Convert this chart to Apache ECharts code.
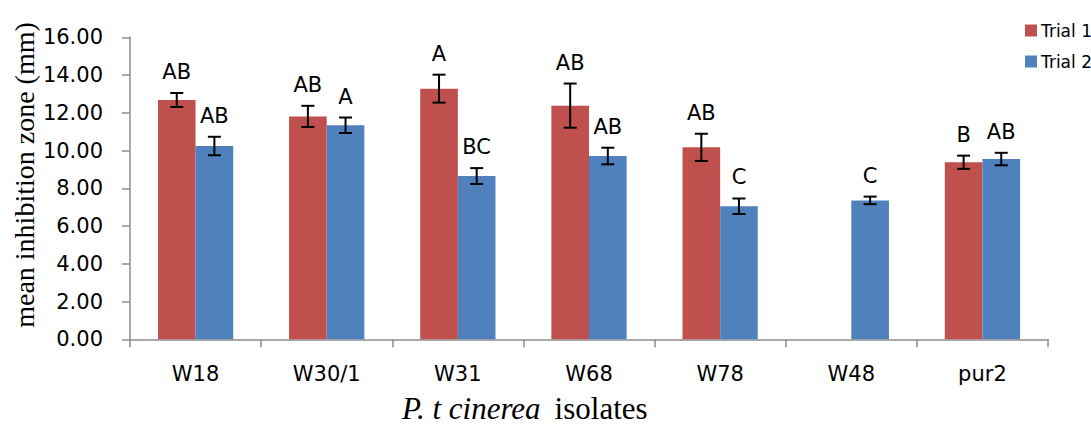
<!DOCTYPE html>
<html>
<head>
<meta charset="utf-8">
<script src="https://cdn.jsdelivr.net/npm/echarts@6/dist/echarts.min.js"></script>
<style>
  html, body { margin: 0; padding: 0; background: #fff; }
  #chart { width: 1091px; height: 425px; }
</style>
</head>
<body>
<div id="chart"></div>
<script>
// Mean inhibition zone (mm) per isolate, two trials, with standard error and letter groups
const categories = ['W18', 'W30/1', 'W31', 'W68', 'W78', 'W48', 'pur2'];
const trial1 = [12.68, 11.81, 13.28, 12.38, 10.17, 0, 9.38];
const trial2 = [10.24, 11.34, 8.65, 9.71, 7.05, 7.36, 9.55];
const err1 = [0.37, 0.56, 0.74, 1.17, 0.72, 0, 0.35];
const err2 = [0.49, 0.41, 0.42, 0.44, 0.41, 0.20, 0.33];
const letters1 = ['AB', 'AB', 'A', 'AB', 'AB', '', 'B'];
const letters2 = ['AB', 'A', 'BC', 'AB', 'C', 'C', 'AB'];
const yMin = 0, yMax = 16, yStep = 2;

const RED = '#C0504D';
const BLUE = '#4F81BD';
const AXIS = '#8C8C8C';
const BAR_SHARE = 0.287;   // each bar's share of a category band
const sansFont = '"DejaVu Sans", "Noto Sans", sans-serif';
const serifFont = '"Liberation Serif", "Times New Roman", serif';

// Error bar + group letter for one trial; side = -1 (left bar) or +1 (right bar)
function errorRenderer(side, letters) {
  return function (params, api) {
    const idx = api.value(0);
    const v = api.value(1);
    const e = api.value(2);
    const band = api.size([1, 0])[0];
    const x = api.coord([idx, v])[0] + side * band * BAR_SHARE / 2;
    const yHi = api.coord([idx, v + e])[1];
    const yLo = api.coord([idx, v - e])[1];
    const cap = 6.5;
    const children = [];
    const lineStyle = { stroke: '#000', lineWidth: 2 };
    if (e > 0) {
      children.push(
        { type: 'line', shape: { x1: x, y1: yHi, x2: x, y2: yLo }, style: lineStyle },
        { type: 'line', shape: { x1: x - cap, y1: yHi, x2: x + cap, y2: yHi }, style: lineStyle },
        { type: 'line', shape: { x1: x - cap, y1: yLo, x2: x + cap, y2: yLo }, style: lineStyle }
      );
    }
    const letter = letters[params.dataIndex];
    if (letter) {
      children.push({
        type: 'text',
        style: {
          text: letter, x: x, y: yHi - 21,
          align: 'center', verticalAlign: 'middle',
          font: '21px ' + sansFont, fill: '#000'
        }
      });
    }
    return { type: 'group', children: children };
  };
}

const chart = echarts.init(document.getElementById('chart'), null, { renderer: 'svg' });

chart.setOption({
  animation: false,
  backgroundColor: '#fff',
  grid: { left: 130, right: 43, top: 37.3, bottom: 85.7, containLabel: false },
  legend: {
    orient: 'vertical',
    left: 1020,
    top: 17,
    itemWidth: 12,
    itemHeight: 12,
    itemGap: 14,
    icon: 'rect',
    textStyle: { fontFamily: sansFont, fontSize: 17, color: '#000', padding: [0, 0, 0, -1] },
    data: ['Trial 1', 'Trial 2']
  },
  xAxis: {
    type: 'category',
    data: categories,
    axisLine: { lineStyle: { color: AXIS, width: 1.5 } },
    axisTick: { show: true, length: 8, lineStyle: { color: AXIS, width: 1.5 } },
    axisLabel: { margin: 24, color: '#000', fontFamily: sansFont, fontSize: 21 },
    splitLine: { show: false }
  },
  yAxis: {
    type: 'value',
    min: yMin, max: yMax, interval: yStep,
    axisLine: { show: true, lineStyle: { color: AXIS, width: 1.5 } },
    axisTick: { show: true, length: 8, lineStyle: { color: AXIS, width: 1.5 } },
    axisLabel: {
      margin: 27, color: '#000', fontFamily: sansFont, fontSize: 21,
      formatter: v => v.toFixed(2)
    },
    splitLine: { show: false }
  },
  graphic: [
    {
      type: 'text',
      x: 24, y: 175,
      rotation: Math.PI / 2,
      style: {
        text: 'mean inhibition zone (mm)',
        align: 'center', verticalAlign: 'middle',
        font: '28px ' + serifFont, fill: '#000'
      }
    },
    {
      type: 'text',
      x: 402, y: 408,
      style: {
        text: '{i|P. t cinerea}{n|isolates}',
        verticalAlign: 'middle',
        rich: {
          i: { fontFamily: serifFont, fontStyle: 'italic', fontSize: 31, color: '#000' },
          n: { fontFamily: serifFont, fontSize: 31, color: '#000', padding: [0, 0, 0, 14] }
        }
      }
    }
  ],
  series: [
    {
      name: 'Trial 1', type: 'bar', data: trial1,
      barWidth: (BAR_SHARE * 100) + '%', barGap: '0%',
      itemStyle: { color: RED }
    },
    {
      name: 'Trial 2', type: 'bar', data: trial2,
      barWidth: (BAR_SHARE * 100) + '%', barGap: '0%',
      itemStyle: { color: BLUE }
    },
    {
      type: 'custom', z: 10,
      renderItem: errorRenderer(-1, letters1),
      encode: { x: 0, y: 1 },
      data: trial1.map((v, i) => [i, v, err1[i]])
    },
    {
      type: 'custom', z: 10,
      renderItem: errorRenderer(1, letters2),
      encode: { x: 0, y: 1 },
      data: trial2.map((v, i) => [i, v, err2[i]])
    }
  ]
});
</script>
</body>
</html>
